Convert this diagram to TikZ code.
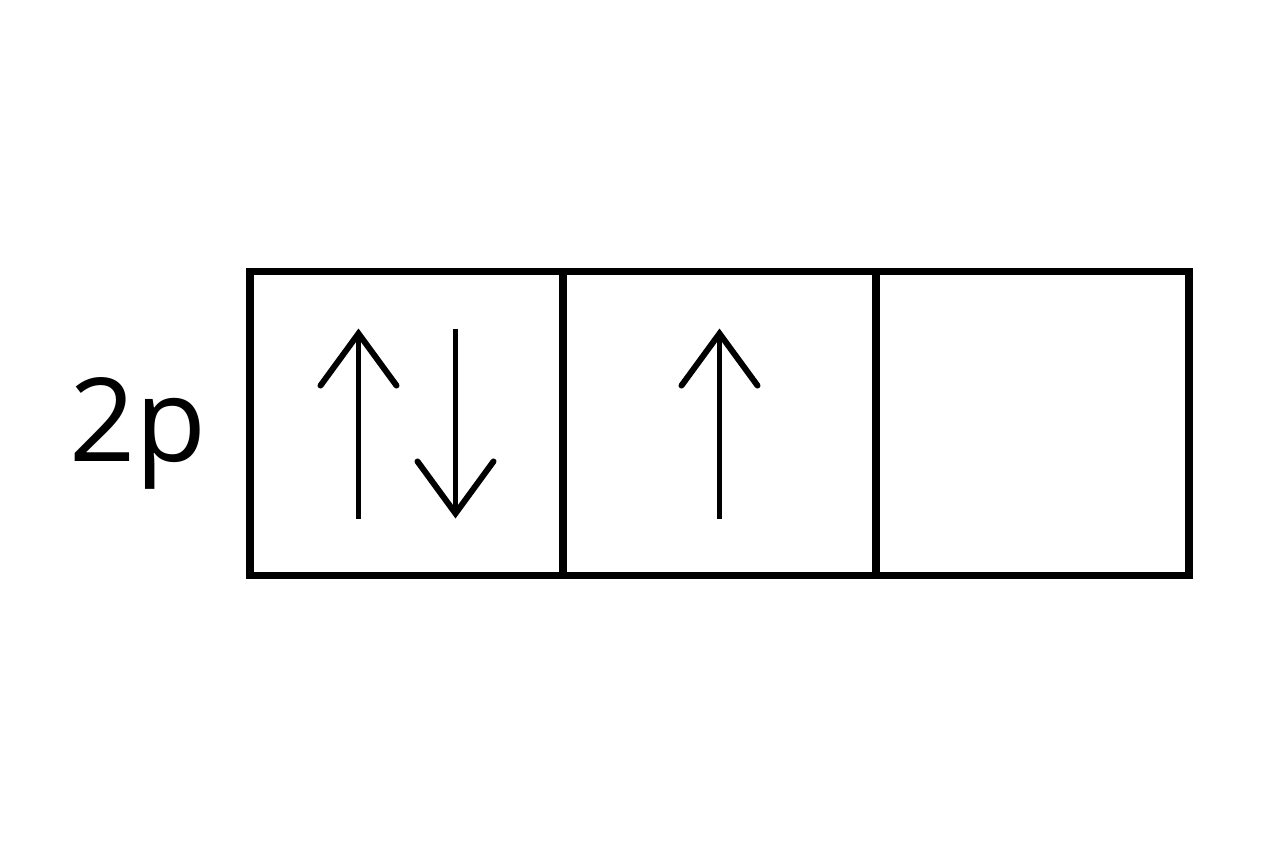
\documentclass[tikz,border=0pt]{standalone}
\usepackage{fontspec}
\setmainfont{Open Sans}
\usetikzlibrary{positioning,arrows.meta}

\tikzset{
  orbital/.style={draw, line width=2pt, minimum width=3.13cm, minimum height=3.04cm, outer sep=0pt, inner sep=0pt},
  spin/.style={line width=1.5pt, -{Straight Barb[length=5.2mm, width=7.6mm, line cap=round, line width=1.7pt]}}
}

\begin{document}
\begin{tikzpicture}

\useasboundingbox (0,0) rectangle (12.64,8.48);

%Orbitale
\node[orbital] (o1) at (4.065,4.245) {};
\node[orbital, right=0pt of o1] (o2) {};
\node[orbital, right=0pt of o2] (o3) {};

%Beschriftung
\node[anchor=base, font=\fontsize{33}{40}\selectfont] (lbl) at (1.38,3.87) {2p};

%Elektronen
\coordinate (u1a) at ([xshift=-4.8mm, yshift=-9.5mm]o1.center);
\coordinate (u1b) at ([xshift=-4.8mm, yshift=9.5mm]o1.center);
\coordinate (d1a) at ([xshift=4.9mm, yshift=9.5mm]o1.center);
\coordinate (d1b) at ([xshift=4.9mm, yshift=-9.5mm]o1.center);
\coordinate (u2a) at ([yshift=-9.5mm]o2.center);
\coordinate (u2b) at ([yshift=9.5mm]o2.center);
\draw[spin] (u1a) -- (u1b);
\draw[spin] (d1a) -- (d1b);
\draw[spin] (u2a) -- (u2b);

\end{tikzpicture}
\end{document}
